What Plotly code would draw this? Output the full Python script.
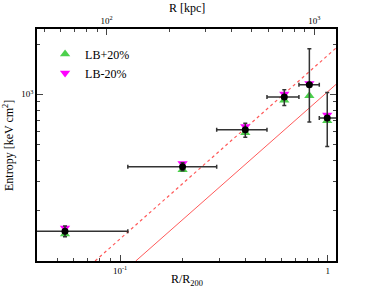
import plotly.graph_objects as go

# ---- data ----
r_over_r200 = [0.0543, 0.200, 0.401, 0.618, 0.816, 0.995]
r_lo = [0.02, 0.109, 0.292, 0.510, 0.727, 0.911]
r_hi = [0.109, 0.292, 0.510, 0.727, 0.911, 1.2]
entropy = [151, 368, 612, 962, 1140, 720]
ent_err_up = [11, 20, 59, 102, 735, 305]
ent_err_dn = [11, 20, 59, 105, 459, 234]
lb_plus20 = [145, 353, 587, 920, 980, 695]
lb_minus20 = [158, 384, 640, 1005, 1160, 750]

base_x = [0.119, 1.1]
base_y = [100, 1150]
base2_x = [0.0758, 1.1]
base2_y = [100, 1900]

R200 = 1160  # kpc
x_ticks = [0.1, 1]
x_ticktext = ["10<sup>-1</sup>", "1"]
x_minor = [0.05, 0.06, 0.07, 0.08, 0.09, 0.2, 0.3, 0.4, 0.5, 0.6, 0.7, 0.8, 0.9]
top_ticks = [100, 1000]
top_ticktext = ["10<sup>2</sup>", "10<sup>3</sup>"]
top_minor = [50, 60, 70, 80, 90, 200, 300, 400, 500, 600, 700, 800, 900]
y_ticks = [1000]
y_ticktext = ["10<sup>3</sup>"]
y_minor = [200, 300, 400, 500, 600, 700, 800, 900, 2000]

xerr_plus = [h - c for h, c in zip(r_hi, r_over_r200)]
xerr_minus = [c - l for c, l in zip(r_over_r200, r_lo)]

FONT = "Liberation Serif, Times New Roman, serif"
fig = go.Figure()

fig.add_trace(go.Scatter(x=base_x, y=base_y, mode="lines",
                         line=dict(color="#ff5a5a", width=1), showlegend=False))
fig.add_trace(go.Scatter(x=base2_x, y=base2_y, mode="lines",
                         line=dict(color="#ff5a5a", width=1.2, dash="dot"), showlegend=False))

fig.add_trace(go.Scatter(x=r_over_r200, y=lb_plus20, mode="markers", name="LB+20%",
                         marker=dict(symbol="triangle-up", size=9, color="#4cd04c")))
fig.add_trace(go.Scatter(x=r_over_r200, y=lb_minus20, mode="markers", name="LB-20%",
                         marker=dict(symbol="triangle-down", size=9, color="#ff00ff")))
fig.add_trace(go.Scatter(x=r_over_r200, y=entropy, mode="markers", showlegend=False,
                         marker=dict(symbol="circle", size=7, color="black"),
                         error_x=dict(type="data", array=xerr_plus, arrayminus=xerr_minus,
                                      color="#333333", thickness=1.5, width=2),
                         error_y=dict(type="data", array=ent_err_up, arrayminus=ent_err_dn,
                                      color="#333333", thickness=1.5, width=2)))
# invisible trace to anchor the top axis
fig.add_trace(go.Scatter(x=[R200 * v for v in r_over_r200], y=entropy, xaxis="x2",
                         mode="markers", marker=dict(opacity=0), showlegend=False,
                         hoverinfo="skip"))

tickfont = dict(family=FONT, size=9, color="black")
fig.update_layout(
    width=374, height=290,
    margin=dict(l=37, r=38, t=29, b=29),
    paper_bgcolor="white", plot_bgcolor="white",
    font=dict(family=FONT, color="black"),
    xaxis=dict(type="log", range=[-1.4, 0.04], showgrid=False, zeroline=False,
               showline=True, linecolor="black", linewidth=1.5, mirror=True,
               tickmode="array", tickvals=x_ticks, ticktext=x_ticktext,
               ticks="inside", ticklen=6, tickcolor="#444", tickwidth=1, tickfont=tickfont,
               minor=dict(tickmode="array", tickvals=x_minor, ticks="inside", ticklen=3,
                          tickcolor="#444", showgrid=False)),
    xaxis2=dict(type="log", overlaying="x", side="top", anchor="y",
                range=[-1.4 + 3.0645, 0.04 + 3.0645], showgrid=False, zeroline=False,
                showline=True, linecolor="black", linewidth=1.5,
                tickmode="array", tickvals=top_ticks, ticktext=top_ticktext,
                ticks="inside", ticklen=6, tickcolor="#444", tickwidth=1, tickfont=tickfont,
                minor=dict(tickmode="array", tickvals=top_minor, ticks="inside", ticklen=3,
                           tickcolor="#444", showgrid=False)),
    yaxis=dict(type="log", range=[2.0, 3.3916], showgrid=False, zeroline=False,
               showline=True, linecolor="black", linewidth=1.5, mirror="ticks",
               tickmode="array", tickvals=y_ticks, ticktext=y_ticktext,
               ticks="inside", ticklen=6, tickcolor="#444", tickwidth=1, tickfont=tickfont,
               minor=dict(tickmode="array", tickvals=y_minor, ticks="inside", ticklen=3,
                          tickcolor="#444", showgrid=False)),
    legend=dict(x=0.027, y=0.955, xanchor="left", yanchor="top",
                bgcolor="rgba(0,0,0,0)", font=dict(family=FONT, size=12, color="black"),
                itemwidth=30, tracegroupgap=0),
    annotations=[
        dict(text="R [kpc]", xref="paper", yref="paper", x=0.5, y=1.0905,
             xanchor="center", yanchor="middle", showarrow=False,
             font=dict(family=FONT, size=12)),
        dict(text="R/R<sub>200</sub>", xref="paper", yref="paper", x=0.5, y=-0.083,
             xanchor="center", yanchor="middle", showarrow=False,
             font=dict(family=FONT, size=12)),
        dict(text="Entropy [keV cm<sup>2</sup>]", xref="paper", yref="paper", x=-0.097, y=0.5,
             xanchor="center", yanchor="middle", textangle=-90, showarrow=False,
             font=dict(family=FONT, size=12)),
    ],
)

fig.write_html("out.html", config={"displayModeBar": False},
               post_script="document.body.style.margin='0';")
